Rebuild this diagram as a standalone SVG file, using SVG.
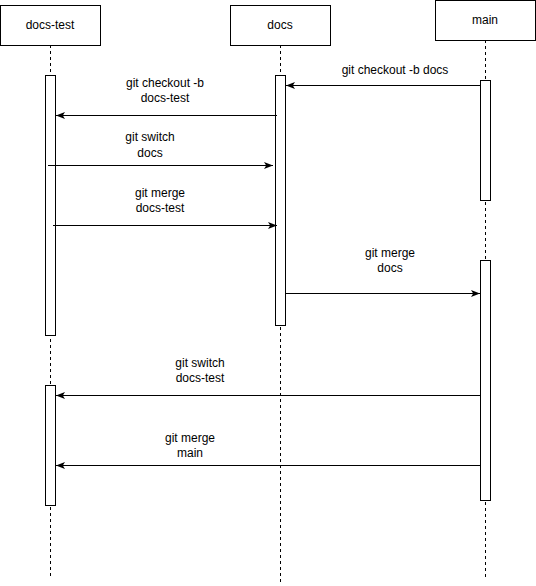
<svg xmlns="http://www.w3.org/2000/svg" width="536" height="586" viewBox="0 0 536 586">
<defs>
<marker id="arr" markerUnits="userSpaceOnUse" markerWidth="10" markerHeight="8" refX="9" refY="3.5" orient="auto">
<path d="M0,0 L9,3.5 L0,7 L2.2,3.5 Z" fill="#000"/>
</marker>
<style>
.box{fill:#fff;stroke:#000;stroke-width:1}
.life{stroke:#000;stroke-width:1;stroke-dasharray:3 3;fill:none}
.act{fill:#fff;stroke:#000;stroke-width:1}
.msg{stroke:#000;stroke-width:1;fill:none;marker-end:url(#arr)}
text{font-family:"Liberation Sans",Arial,sans-serif;font-size:12px;fill:#000;text-anchor:middle}
</style>
</defs>
<rect width="536" height="586" fill="#fff"/>
<g id="docs-test">
<line class="life" x1="50.5" y1="45" x2="50.5" y2="576"/>
<rect class="box" x="0.5" y="5.5" width="100" height="40"/>
<text x="50" y="29">docs-test</text>
<rect class="act" x="45.5" y="75.5" width="10" height="260"/>
<rect class="act" x="45.5" y="385.5" width="10" height="120"/>
</g>
<g id="docs">
<line class="life" x1="280.5" y1="45" x2="280.5" y2="583"/>
<rect class="box" x="230.5" y="5.5" width="100" height="40"/>
<text x="280" y="29">docs</text>
<rect class="act" x="275.5" y="75.5" width="10" height="250"/>
</g>
<g id="main">
<line class="life" x1="485.5" y1="40" x2="485.5" y2="578"/>
<rect class="box" x="435.5" y="0.5" width="100" height="40"/>
<text x="485" y="24">main</text>
<rect class="act" x="480.5" y="80.5" width="10" height="120"/>
<rect class="act" x="480.5" y="260.5" width="10" height="240"/>
</g>
<g id="connectors">
<line class="msg" x1="480" y1="85.5" x2="286" y2="85.5"/>
<text x="395" y="74">git checkout -b docs</text>
<line class="msg" x1="277" y1="115.5" x2="56" y2="115.5"/>
<text x="165" y="87">git checkout -b</text>
<text x="165" y="102">docs-test</text>
<line class="msg" x1="48" y1="165.5" x2="273" y2="165.5"/>
<text x="150" y="141">git switch</text>
<text x="150" y="157">docs</text>
<line class="msg" x1="53" y1="225.5" x2="277" y2="225.5"/>
<text x="160" y="197">git merge</text>
<text x="160" y="212">docs-test</text>
<line class="msg" x1="286" y1="293.5" x2="480" y2="293.5"/>
<text x="390" y="257">git merge</text>
<text x="390" y="272">docs</text>
<line class="msg" x1="480" y1="395.5" x2="56" y2="395.5"/>
<text x="200" y="367">git switch</text>
<text x="200" y="382">docs-test</text>
<line class="msg" x1="480" y1="465.5" x2="56" y2="465.5"/>
<text x="190" y="442">git merge</text>
<text x="190" y="457">main</text>
</g>
</svg>
